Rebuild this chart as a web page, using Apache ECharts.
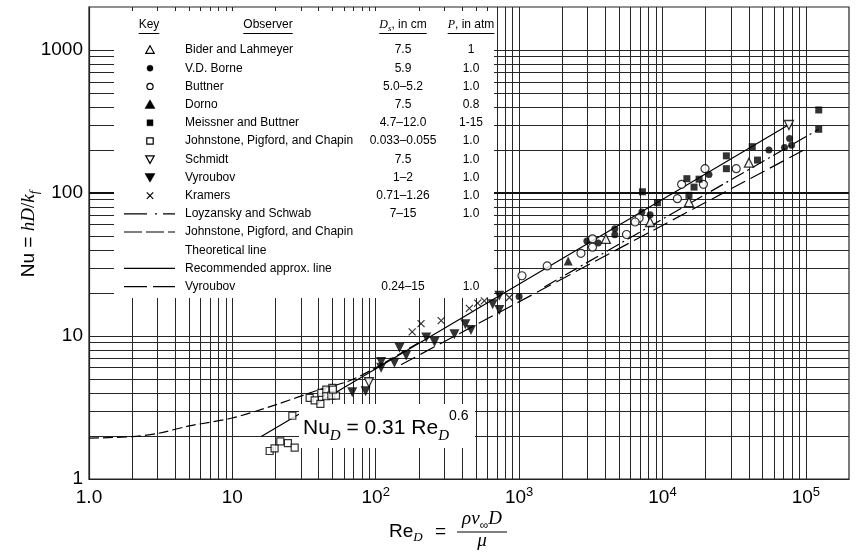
<!DOCTYPE html>
<html><head><meta charset="utf-8">
<script src="https://cdn.jsdelivr.net/npm/echarts@6/dist/echarts.min.js"></script>
<style>html,body{margin:0;padding:0;background:#fff}#c{width:861px;height:556px}</style>
</head><body><div id="c"></div>
<script>
// ---------- data ----------
const xLabelValues = [1, 10, 100, 1000, 10000, 100000];
const yLabelValues = [1, 10, 100, 1000];
const gridMultipliers = [2, 3, 4, 5, 6, 7, 8, 9];
const xGridDecades = [1, 10, 100, 1000, 10000];
const yGridDecades = [1, 10, 100];

const biderLahmeyer = [[4.01e4,163],[1.53e4,86.5],[8.2e3,62.7],[4.03e3,47.8]];
const vdBorne = [[7.7e4,241],[7.95e4,216],[7.1e4,208],[5.53e4,200],[2.11e4,135],[7.18e3,73.6],[8.2e3,70.5],[4.65e3,56.2],[4.65e3,51.0],[2.97e3,46.1],[3.56e3,44.8],[1000,18.9]];
const buttner = [[3.27e4,148],[1.98e4,148],[1.36e4,115],[1.93e4,115],[1.27e4,91.3],[6.87e3,66.8],[6.44e3,62.7],[5.61e3,51.3],[3.25e3,47.8],[3.25e3,41.8],[2.7e3,37.9],[1047,26.4],[1.57e3,30.9]];
const dorno = [[2.2e3,33.5]];
const meissnerButtner = [[1.23e5,381],[1.23e5,279],[4.23e4,211],[4.6e4,170],[2.79e4,182],[2.79e4,148],[1.8e4,125],[1.48e4,126],[1.66e4,110],[7.25e3,102],[9.22e3,85.6],[1.53e4,96.4]];
const johnstonePoints = [[34.6,3.69],[37.5,3.55],[41.1,3.35],[41.7,4.0],[45.2,4.22],[45.2,3.79],[49.8,4.34],[49,3.83],[52.8,3.83],[50.3,4.22],[26.2,2.77],[18.2,1.57],[19.7,1.64],[21.6,1.83],[24.4,1.78],[27.2,1.66]];
const schmidt = [[7.62e4,299],[89.6,4.75]];
const vyroubovPoints = [[68.6,4.04],[84.9,4.11],[109,6.57],[109,6.0],[135,6.5],[146.5,8.28],[163,7.32],[225,9.75],[257,9.08],[354,10.3],[422,12.1],[462,11.0],[654,16.7],[728,19.1],[728,15.2]];
const kramers = [[179.5,10.7],[207,12.2],[286,12.8],[450,15.6],[514,17.0],[572,17.6],[855,18.6]];

const loyzanskyLine = [[1.5e3,22],[1.23e5,279]];
const johnstoneLine = [[1,1.93],[2,1.98],[3,2.08],[5,2.35],[10,2.67],[20,3.3],[40,4.2],[65,4.85],[100,6.0],[200,9.0]];
const recommendedLine = [[15.9,1.98],[7.6e4,300]];
const vyroubovLine = [[150,6.3],[9.7e4,200]];

const observerNames = ['Bider and Lahmeyer','V.D. Borne','Buttner','Dorno','Meissner and Buttner','Johnstone, Pigford, and Chapin','Schmidt','Vyroubov','Kramers','Loyzansky and Schwab','Johnstone, Pigford, and Chapin','Theoretical line','Recommended approx. line','Vyroubov'];
const dsValues = ['7.5','5.9','5.0\u20135.2','7.5','4.7\u201312.0','0.033\u20130.055','7.5','1\u20132','0.71\u20131.26','7\u201315','','','','0.24\u201315'];
const pValues = ['1','1.0','1.0','0.8','1-15','1.0','1.0','1.0','1.0','1.0','','','','1.0'];

// ---------- helpers ----------
const ctx = document.createElement('canvas').getContext('2d');
function fontStr(s){ return (s.italic?'italic ':'') + s.size + 'px ' + (s.serif?'"Liberation Serif"':'"Liberation Sans"'); }
function textEl(t, x, y, font, align, z){
  return {type:'text', x:x, y:y, z:z||20, silent:true,
    style:{text:t, font:font, fill:'#000', textAlign:align||'left', align:align||'left', textVerticalAlign:'middle', verticalAlign:'middle'}};
}
function runs(segs, x0, base, z){
  let x = x0; const els = [];
  for (const s of segs){
    const f = fontStr(s); ctx.font = f; const w = ctx.measureText(s.t).width;
    els.push(textEl(s.t, x, base - 0.35*s.size + (s.dy||0), f, 'left', z));
    x += w + (s.gap||0);
  }
  return {els: els, width: x - x0};
}
function measureSegs(segs){ let w=0; for(const s of segs){ ctx.font=fontStr(s); w+=ctx.measureText(s.t).width + (s.gap||0);} return w; }

// ---------- grid line values ----------
const xGridLines = [], yGridLines = [];
xGridDecades.forEach(d => { gridMultipliers.forEach(m => xGridLines.push(m*d)); xGridLines.push(10*d); });
yGridDecades.forEach(d => { gridMultipliers.forEach(m => yGridLines.push(m*d)); yGridLines.push(10*d); });

const gridStyle = {color:'#262626', width:1, type:'solid'};
const markData = [];
xGridLines.forEach(v => markData.push({xAxis:v}));
yGridLines.forEach(v => markData.push(v===100 ? {yAxis:v, lineStyle:{color:'#111', width:2.2, type:'solid'}} : {yAxis:v}));

// ---------- graphics ----------
const g = [];
g.push({type:'rect', z:3, silent:true, shape:{x:114, y:11, width:380, height:287}, style:{fill:'#fff'}});
g.push({type:'rect', z:3, silent:true, shape:{x:299, y:404, width:176, height:44}, style:{fill:'#fff'}});

const LF = 12;
const lfont = LF + 'px "Liberation Sans"';
const hdrY = 25, ulY = 33.5;
g.push(textEl('Key', 149, hdrY, lfont, 'center'));
g.push(textEl('Observer', 268, hdrY, lfont, 'center'));
const dsSegs = [{t:'D', size:12, italic:true, serif:true},{t:'s', size:9, italic:true, serif:true, dy:3},{t:', in cm', size:12}];
const dsW = measureSegs(dsSegs);
g.push(...runs(dsSegs, 403 - dsW/2, hdrY + 4.2).els);
const pSegs = [{t:'P', size:12, italic:true, serif:true},{t:', in atm', size:12}];
const pW = measureSegs(pSegs);
g.push(...runs(pSegs, 471 - pW/2, hdrY + 4.2).els);
function hl(x1,x2,y,w,dash){ return {type:'line', z:20, silent:true, shape:{x1:x1,y1:y,x2:x2,y2:y}, style:{stroke:'#000', lineWidth:w||1, lineDash:dash||null}}; }
ctx.font = lfont;
g.push(hl(149 - ctx.measureText('Key').width/2, 149 + ctx.measureText('Key').width/2, ulY, 1));
g.push(hl(268 - ctx.measureText('Observer').width/2, 268 + ctx.measureText('Observer').width/2, ulY, 1));
g.push(hl(403 - dsW/2, 403 + dsW/2, ulY, 1));
g.push(hl(471 - pW/2, 471 + pW/2, ulY, 1));

const rowY = i => 50 + 18.2*i;
const KX = 150;
function keySym(i){
  const y = rowY(i);
  const open = {fill:'#fff', stroke:'#000', lineWidth:1.2};
  const fill = {fill:'#000', stroke:'#000', lineWidth:0.5};
  switch(i){
    case 0: return {type:'polygon', z:20, shape:{points:[[KX,y-4.2],[KX+4.2,y+3.3],[KX-4.2,y+3.3]]}, style:open};
    case 1: return {type:'circle', z:20, shape:{cx:KX, cy:y, r:3}, style:fill};
    case 2: return {type:'circle', z:20, shape:{cx:KX, cy:y, r:3.1}, style:open};
    case 3: return {type:'polygon', z:20, shape:{points:[[KX,y-4.8],[KX+5,y+3.8],[KX-5,y+3.8]]}, style:fill};
    case 4: return {type:'rect', z:20, shape:{x:KX-3, y:y-3, width:6, height:6}, style:fill};
    case 5: return {type:'rect', z:20, shape:{x:KX-3.2, y:y-3.2, width:6.4, height:6.4}, style:open};
    case 6: return {type:'polygon', z:20, shape:{points:[[KX,y+4.2],[KX+4.2,y-3.3],[KX-4.2,y-3.3]]}, style:open};
    case 7: return {type:'polygon', z:20, shape:{points:[[KX,y+4.8],[KX+5,y-3.8],[KX-5,y-3.8]]}, style:fill};
  }
}
for (let i=0;i<8;i++) g.push(keySym(i));
(function(){ const y=rowY(8); g.push({type:'polyline', z:20, shape:{points:[[KX-3.2,y-3.2],[KX+3.2,y+3.2]]}, style:{stroke:'#000', lineWidth:1.2}});
 g.push({type:'polyline', z:20, shape:{points:[[KX-3.2,y+3.2],[KX+3.2,y-3.2]]}, style:{stroke:'#000', lineWidth:1.2}}); })();
g.push(hl(124,175,rowY(9),1.2,[23,8,2,6]));
g.push(hl(124,175,rowY(10),1.2,[18,4]));
g.push(hl(124,175,rowY(12),1.2,null));
g.push(hl(124,175,rowY(13),1.2,[23,6]));
for (let i=0;i<observerNames.length;i++){
  g.push(textEl(observerNames[i], 185, rowY(i), lfont, 'left'));
  if (dsValues[i]) g.push(textEl(dsValues[i], 403, rowY(i), lfont, 'center'));
  if (pValues[i]) g.push(textEl(pValues[i], 471, rowY(i), lfont, 'center'));
}

(function(){
  const segs = [{t:'Nu', size:21},{t:'D', size:15, italic:true, serif:true, dy:5},{t:' = 0.31 Re', size:21},{t:'D', size:15, italic:true, serif:true, dy:5},{t:'0.6', size:14, dy:-15}];
  g.push(...runs(segs, 303, 436).els);
})();

(function(){
  const segs = [{t:'Nu = ', size:19},{t:'hD', size:19, italic:true, serif:true},{t:'/', size:19, serif:true},{t:'k', size:19, italic:true, serif:true},{t:'f', size:13, italic:true, serif:true, dy:4}];
  const w = measureSegs(segs);
  const r = runs(segs, -w/2, 6.5);
  g.push({type:'group', x:29, y:234, rotation:Math.PI/2, children:r.els});
})();

(function(){
  const base = 538;
  const left = [{t:'Re', size:19},{t:'D', size:13, italic:true, serif:true, dy:4}];
  g.push(...runs(left, 389, base).els);
  g.push(...runs([{t:'=', size:19}], 435, base).els);
  const num = [{t:'\u03C1', size:19, italic:true, serif:true},{t:'v', size:19, italic:true, serif:true},{t:'\u221E', size:12, dy:4},{t:'D', size:19, italic:true, serif:true}];
  const nw = measureSegs(num);
  g.push(...runs(num, 482 - nw/2, 526).els);
  g.push(hl(457, 507, 532, 1.1));
  ctx.font = 'italic 19px "Liberation Serif"';
  const mw = ctx.measureText('\u03BC').width;
  g.push(...runs([{t:'\u03BC', size:19, italic:true, serif:true}], 482 - mw/2, 548).els);
})();

// ---------- chart ----------
const chart = echarts.init(document.getElementById('c'), null, {renderer:'canvas'});
const supRich = {b:{fontSize:19, fontFamily:'Liberation Sans', color:'#000', lineHeight:24}, s:{fontSize:13, fontFamily:'Liberation Sans', color:'#000', verticalAlign:'top', lineHeight:13}};
function xFmt(v){
  const e = Math.round(Math.log10(v));
  if (xLabelValues.indexOf(Math.pow(10,e)) < 0) return '';
  if (e === 0) return '{b|1.0}';
  if (e === 1) return '{b|10}';
  return '{b|10}{s|' + e + '}';
}
function yFmt(v){
  const r = Math.round(v);
  return yLabelValues.indexOf(r) >= 0 ? String(r) : '';
}
const series = [
  {type:'scatter', name:'gridlines', data:[], z:1, silent:true,
   markLine:{z:1, silent:true, animation:false, symbol:['none','none'], label:{show:false}, lineStyle:gridStyle, emphasis:{disabled:true}, data:markData}},
  {type:'line', name:'Loyzansky and Schwab', data:loyzanskyLine, z:6, showSymbol:false, silent:true, lineStyle:{color:'#000', width:1.2, type:[14,4,2,4]}},
  {type:'line', name:'Johnstone line', data:johnstoneLine, z:6, showSymbol:false, smooth:0.3, silent:true, lineStyle:{color:'#000', width:1.2, type:[10,4]}},
  {type:'line', name:'Recommended', data:recommendedLine, z:2, showSymbol:false, silent:true, lineStyle:{color:'#000', width:1.2, type:'solid'}},
  {type:'line', name:'Vyroubov line', data:vyroubovLine, z:6, showSymbol:false, silent:true, lineStyle:{color:'#000', width:1.2, type:[16,6]}},
  {type:'scatter', name:'Bider', data:biderLahmeyer, z:10, symbol:'triangle', symbolSize:9, itemStyle:{color:'#fff', borderColor:'#000', borderWidth:1.3}},
  {type:'scatter', name:'Borne', data:vdBorne, z:10, symbol:'circle', symbolSize:7, itemStyle:{color:'#000'}},
  {type:'scatter', name:'Buttner', data:buttner, z:10, symbol:'circle', symbolSize:8, itemStyle:{color:'#fff', borderColor:'#000', borderWidth:1.2}},
  {type:'scatter', name:'Dorno', data:dorno, z:10, symbol:'triangle', symbolSize:9, itemStyle:{color:'#000'}},
  {type:'scatter', name:'Meissner', data:meissnerButtner, z:10, symbol:'rect', symbolSize:7, itemStyle:{color:'#000'}},
  {type:'scatter', name:'Johnstone pts', data:johnstonePoints, z:10, symbol:'rect', symbolSize:7, itemStyle:{color:'#fff', borderColor:'#000', borderWidth:1.2}},
  {type:'scatter', name:'Schmidt', data:schmidt, z:10, symbol:'triangle', symbolRotate:180, symbolSize:9, itemStyle:{color:'#fff', borderColor:'#000', borderWidth:1.3}},
  {type:'scatter', name:'Vyroubov pts', data:vyroubovPoints, z:10, symbol:'triangle', symbolRotate:180, symbolSize:10, itemStyle:{color:'#000'}},
  {type:'scatter', name:'Kramers', data:kramers, z:10, symbol:'path://M0,0L10,10M10,0L0,10', symbolSize:7, itemStyle:{color:'rgba(0,0,0,0)', borderColor:'#000', borderWidth:1.2}}
];
chart.setOption({
  animation:false,
  backgroundColor:'#fff',
  grid:{left:89, right:12, top:7, bottom:77, show:true, borderColor:'#222', borderWidth:1.2, backgroundColor:'rgba(0,0,0,0)'},
  xAxis:{type:'log', logBase:10, min:1, max:2e5,
    axisLine:{show:true, lineStyle:{color:'#222', width:1.2}}, axisTick:{show:false}, splitLine:{show:false},
    axisLabel:{formatter:xFmt, rich:supRich, margin:7, showMaxLabel:false}},
  yAxis:{type:'log', logBase:10, min:1, max:2000,
    axisLine:{show:true, lineStyle:{color:'#222', width:1.2}}, axisTick:{show:false}, splitLine:{show:false},
    axisLabel:{formatter:yFmt, fontSize:19, fontFamily:'Liberation Sans', color:'#000', margin:6, showMaxLabel:false}},
  series:series,
  graphic:{elements:g}
});
</script></body></html>
